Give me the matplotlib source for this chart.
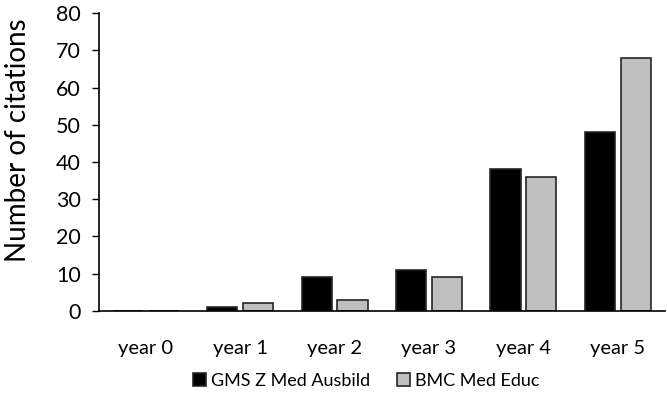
import numpy as np
import matplotlib
matplotlib.use('Agg')
import matplotlib.pyplot as plt

plt.rcParams['font.family'] = ['Lato', 'DejaVu Sans']

years = ['year 0', 'year 1', 'year 2', 'year 3', 'year 4', 'year 5']
gms = [0, 1, 9, 11, 38, 48]
bmc = [0, 2, 3, 9, 36, 68]

fig = plt.figure(figsize=(6.67, 3.96), dpi=100)
ax = fig.add_axes([0.148, 0.215, 0.849, 0.752])

x = np.arange(len(years))
w = 0.32
ax.bar(x - 0.19, gms, w, color='black', edgecolor='#262626', linewidth=1.2,
       label='GMS Z Med Ausbild')
ax.bar(x + 0.19, bmc, w, color='#BFBFBF', edgecolor='#262626', linewidth=1.2,
       label='BMC Med Educ')

ax.set_xlim(-0.5, 5.5)
ax.set_ylim(0, 80)
ax.set_yticks(range(0, 81, 10))
ax.set_xticks(x)
ax.set_xticklabels(years)
ax.tick_params(axis='x', length=0, pad=21, labelsize=14.5)
ax.tick_params(axis='y', length=5, width=1, pad=8, labelsize=15.5)
ax.set_ylabel('Number of citations', fontsize=20)
ax.yaxis.set_label_coords(-0.12, 0.574)

for s in ['top', 'right']:
    ax.spines[s].set_visible(False)
for s in ['left', 'bottom']:
    ax.spines[s].set_linewidth(1.2)

ax.legend(loc='center', bbox_to_anchor=(0.473, -0.235), ncol=2, frameon=False,
          fontsize=13, handlelength=0.7, handleheight=0.7, handletextpad=0.3,
          columnspacing=1.5)

fig.savefig('out.png', dpi=100)
